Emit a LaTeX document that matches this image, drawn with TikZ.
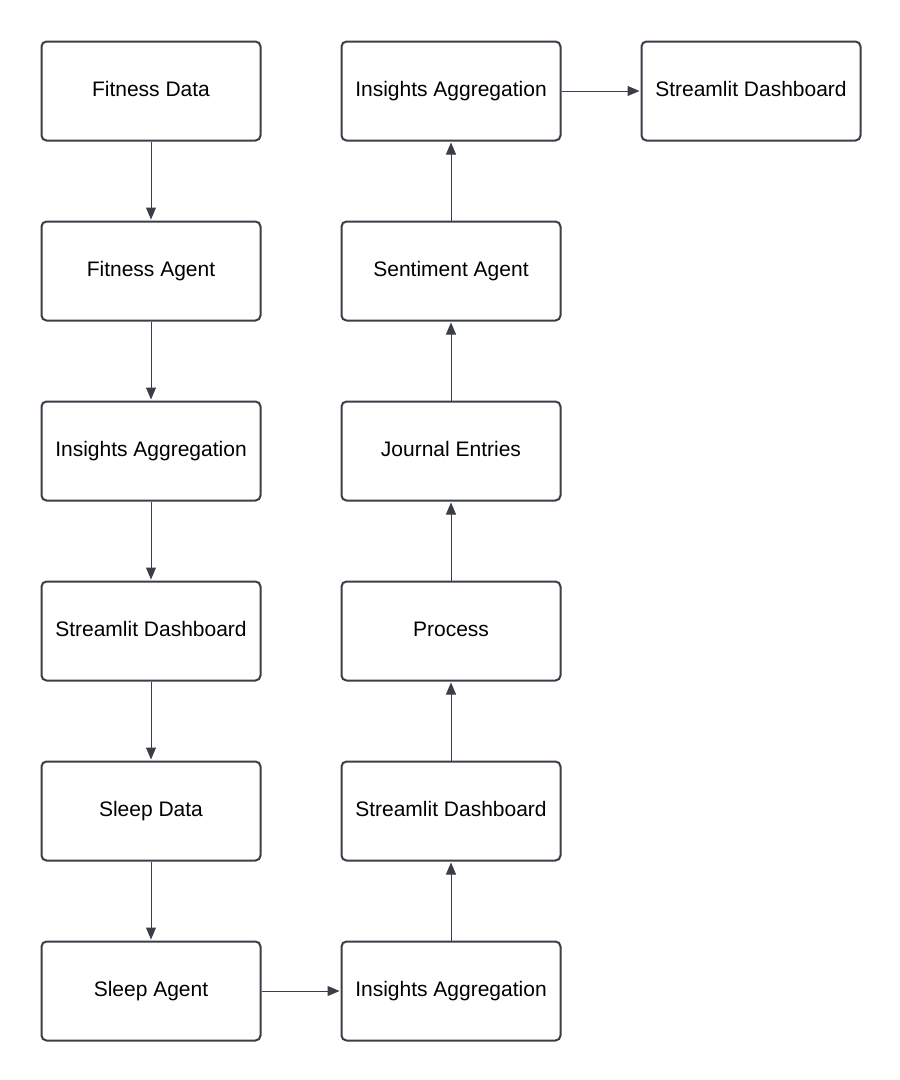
\documentclass[tikz,border=0pt]{standalone}
\usepackage{fontspec}
\setmainfont{Liberation Sans}
\usetikzlibrary{arrows.meta}
\definecolor{edge}{HTML}{3A3E47}
\tikzset{
  box/.style={draw=edge, line width=2pt, rounded corners=5pt, fill=white,
    minimum width=219pt, minimum height=99pt, inner sep=0pt, text height=15pt, text depth=3.4pt,
    font=\fontsize{21}{25}\selectfont, text=black, anchor=north west},
  conn/.style={draw=edge, line width=1pt, -{Triangle[length=12pt,width=10pt]}, shorten >=1pt}
}
\begin{document}
\begin{tikzpicture}[x=1pt,y=-1pt]
\useasboundingbox[fill=white] (0,0) rectangle (900,1080);
% left column
\node[box] (fd) at (40.5,40.5) {Fitness Data};
\node[box] (fa) at (40.5,220.5) {Fitness Agent};
\node[box] (ia1) at (40.5,400.5) {Insights Aggregation};
\node[box] (sd1) at (40.5,580.5) {Streamlit Dashboard};
\node[box] (sld) at (40.5,760.5) {Sleep Data};
\node[box] (sla) at (40.5,940.5) {Sleep Agent};
% middle column
\node[box] (ia2) at (340.5,940.5) {Insights Aggregation};
\node[box] (sd2) at (340.5,760.5) {Streamlit Dashboard};
\node[box] (pr) at (340.5,580.5) {Process};
\node[box] (je) at (340.5,400.5) {Journal Entries};
\node[box] (sa) at (340.5,220.5) {Sentiment Agent};
\node[box] (ia3) at (340.5,40.5) {Insights Aggregation};
% right
\node[box] (sd3) at (640.5,40.5) {Streamlit Dashboard};
% connectors
\draw[conn] (fd) -- (fa);
\draw[conn] (fa) -- (ia1);
\draw[conn] (ia1) -- (sd1);
\draw[conn] (sd1) -- (sld);
\draw[conn] (sld) -- (sla);
\draw[conn] (sla) -- (ia2);
\draw[conn] (ia2) -- (sd2);
\draw[conn] (sd2) -- (pr);
\draw[conn] (pr) -- (je);
\draw[conn] (je) -- (sa);
\draw[conn] (sa) -- (ia3);
\draw[conn] (ia3) -- (sd3);
\end{tikzpicture}
\end{document}
